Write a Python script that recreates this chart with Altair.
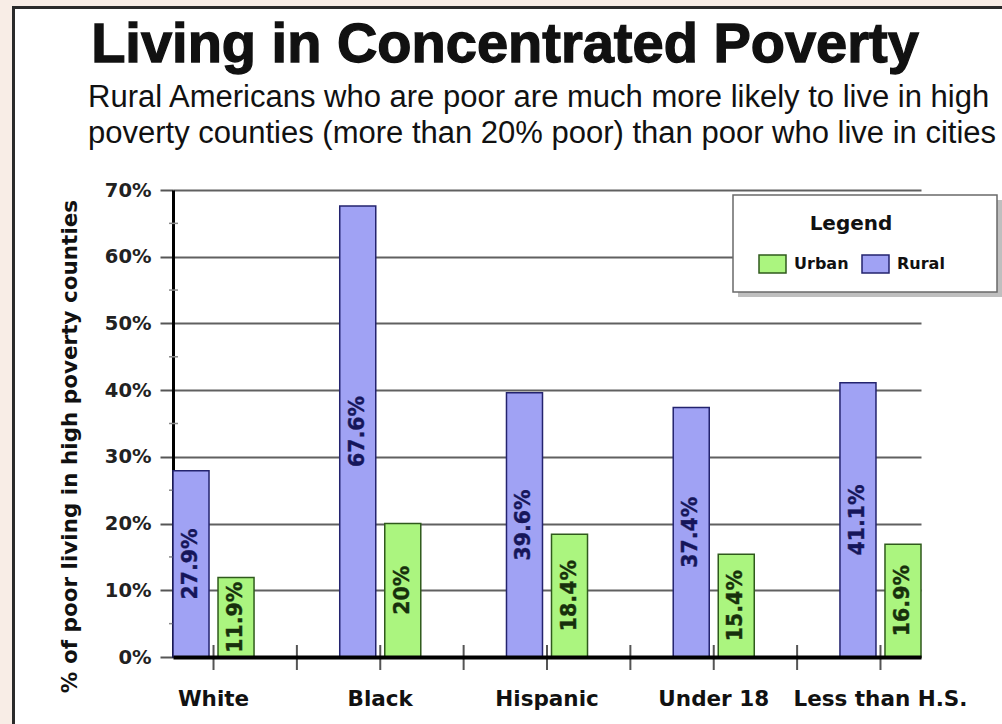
import altair as alt
import pandas as pd

# ---- data ----
categories = ["White", "Black", "Hispanic", "Under 18", "Less than H.S."]
rural = [27.9, 67.6, 39.6, 37.4, 41.1]
urban = [11.9, 20.0, 18.4, 15.4, 16.9]
series_order = ["Rural", "Urban"]
legend_order = ["Urban", "Rural"]
y_ticks = [0, 10, 20, 30, 40, 50, 60, 70]
y_minor_ticks = [5, 15, 25, 35, 45, 55, 65]

title_text = "Living in Concentrated Poverty"
subtitle_lines = [
    "Rural Americans who are poor are much more likely to live in high",
    "poverty counties (more than 20% poor) than poor who live in cities",
]
y_title = "% of poor living in high poverty counties"

# ---- style ----
W, H = 748, 467
PAD_L, PAD_T = 173, 190
PAD_INNER = 0.514
STEP = W / (len(categories) - PAD_INNER)
HALF_GAP = PAD_INNER * STEP / 2
BLUE, GREEN = "#a0a2f4", "#abf57f"
BLUE_EDGE, GREEN_EDGE = "#23236e", "#2f5a1c"
BLUE_TEXT, GREEN_TEXT = "#16165a", "#17300c"
BEIGE = "#f8ede6"
VFONT = "DejaVu Sans"
HFONT = "Liberation Sans"

rows = []
for c, r, u in zip(categories, rural, urban):
    rows.append({"category": c, "series": "Rural", "value": r})
    rows.append({"category": c, "series": "Urban", "value": u})
df = pd.DataFrame(rows)

x_axis = alt.Axis(
    title=None, ticks=False, labelAngle=0, labelFont=VFONT, labelFontSize=21.5,
    labelFontWeight="bold", labelColor="#111", labelPadding=31,
    domainColor="#000", domainWidth=4, grid=False, zindex=1,
)
x_scale = alt.Scale(paddingInner=PAD_INNER, paddingOuter=0)


def x_enc(band=None):
    if band is None:
        return alt.X("category:N", sort=categories, scale=x_scale, axis=x_axis)
    return alt.X("category:N", sort=categories, scale=x_scale, axis=x_axis, bandPosition=band)


y_axis = alt.Axis(
    values=y_ticks, labelExpr="datum.value + '%'", title=y_title,
    labelFont=VFONT, labelFontSize=19.5, labelFontWeight="bold", labelColor="#222",
    labelPadding=9, tickSize=13, tickColor="#555", tickWidth=2,
    domainColor="#000", domainWidth=3, grid=True, gridColor="#606060", gridWidth=2,
    titleFont=VFONT, titleFontSize=21.5, titleFontWeight="bold", titleColor="#111",
    titleAngle=270, titleX=-103, titleY=256, titleAlign="center", titleBaseline="middle",
)
y_scale = alt.Scale(domain=[0, 70], nice=False)


def y_enc(field):
    return alt.Y(field, scale=y_scale, axis=y_axis)


xoff = alt.XOffset("series:N", sort=series_order,
                   scale=alt.Scale(domain=series_order, paddingInner=0.2, paddingOuter=0))

base = alt.Chart(df)

bars = base.mark_bar(strokeWidth=1.5).encode(
    x=x_enc(),
    xOffset=xoff,
    y=y_enc("value:Q"),
    color=alt.Color(
        "series:N",
        scale=alt.Scale(domain=legend_order, range=[GREEN, BLUE]),
        legend=alt.Legend(
            title="Legend", orient="none", legendX=585, legendY=24,
            direction="horizontal", titleAnchor="middle",
            titleFont=VFONT, titleFontSize=20, titleFontWeight="bold", titleColor="#111",
            titlePadding=20,
            labelFont=VFONT, labelFontSize=16, labelFontWeight="bold", labelColor="#111",
            labelOffset=16, columnPadding=10, padding=0,
            symbolType="M-1,-1H2V1H-1Z", symbolSize=324,
            symbolStrokeWidth=1.5, symbolStrokeColor="#222", symbolOpacity=1,
        ),
    ),
    stroke=alt.Stroke("series:N", scale=alt.Scale(domain=legend_order, range=[GREEN_EDGE, BLUE_EDGE]),
                      legend=None),
)


def value_labels(name, color):
    return base.transform_filter(f"datum.series == '{name}'").transform_calculate(
        mid="datum.value / 2",
        label="format(datum.value, '.1~f') + '%'",
    ).mark_text(angle=270, font=VFONT, fontSize=20.5, fontWeight="bold", color=color,
                stroke=color, strokeWidth=0.4,
                align="center", baseline="middle").encode(
        x=x_enc(), xOffset=xoff, y=y_enc("mid:Q"), text="label:N",
    )


text_r = value_labels("Rural", BLUE_TEXT)
text_u = value_labels("Urban", GREEN_TEXT)

tick_df = pd.DataFrame({"category": categories})
center_ticks = alt.Chart(tick_df).mark_rule(color="#555", strokeWidth=2).encode(
    x=x_enc(0.5), y=alt.value(H - 12), y2=alt.value(H + 13))
mid_ticks = alt.Chart(pd.DataFrame({"category": categories[:-1]})).mark_rule(
    color="#555", strokeWidth=2, xOffset=HALF_GAP).encode(
    x=x_enc(1), y=alt.value(H - 12), y2=alt.value(H + 13))
minor_ticks = alt.Chart(pd.DataFrame({"value": y_minor_ticks})).mark_rule(
    color="#8a8a8a", strokeWidth=1.5).encode(
    y=y_enc("value:Q"), x=alt.value(-4), x2=alt.value(5))

one = alt.Data(values=[{"k": 1}])
beige_left = alt.Chart(one).mark_rect(fill=BEIGE).encode(
    x=alt.value(-PAD_L), x2=alt.value(-PAD_L + 12), y=alt.value(-PAD_T), y2=alt.value(H + 80))
beige_top = alt.Chart(one).mark_rect(fill=BEIGE).encode(
    x=alt.value(-PAD_L), x2=alt.value(W + 100), y=alt.value(-PAD_T), y2=alt.value(-PAD_T + 7))
frame = alt.Chart(one).mark_rect(fill="transparent", stroke="#2a2a2a", strokeWidth=3).encode(
    x=alt.value(-PAD_L + 13.5), x2=alt.value(W + 120), y=alt.value(-PAD_T + 7.5), y2=alt.value(H + 120))

legend_shadow = alt.Chart(one).mark_rect(fill="#8a8a8a", opacity=0.55).encode(
    x=alt.value(565), x2=alt.value(829), y=alt.value(10), y2=alt.value(107))
legend_box = alt.Chart(one).mark_rect(fill="white", stroke="#6a6a6a", strokeWidth=1.5).encode(
    x=alt.value(560), x2=alt.value(824), y=alt.value(5), y2=alt.value(102))

title = alt.Chart(one).mark_text(
    text=title_text, font=HFONT, fontSize=56, fontWeight="bold", color="#111",
    stroke="#111", strokeWidth=1.3,
    align="center", baseline="alphabetic").encode(x=alt.value(505 - PAD_L), y=alt.value(62 - PAD_T))
subtitle = alt.Chart(one).mark_text(
    text=subtitle_lines, font=HFONT, fontSize=31, color="#111", lineHeight=36,
    align="left", baseline="alphabetic").encode(x=alt.value(88 - PAD_L), y=alt.value(107 - PAD_T))

chart = alt.layer(
    beige_left, beige_top, frame, title, subtitle,
    minor_ticks, bars, text_r, text_u, center_ticks, mid_ticks,
    legend_shadow, legend_box,
).properties(
    width=W, height=H,
    autosize=alt.AutoSizeParams(type="none"),
    padding={"left": PAD_L, "top": PAD_T, "right": 1002 - PAD_L - W, "bottom": 724 - PAD_T - H},
    background="white",
).configure_view(stroke=None)

chart.save("out.html", embed_options={"renderer": "svg", "actions": False})
